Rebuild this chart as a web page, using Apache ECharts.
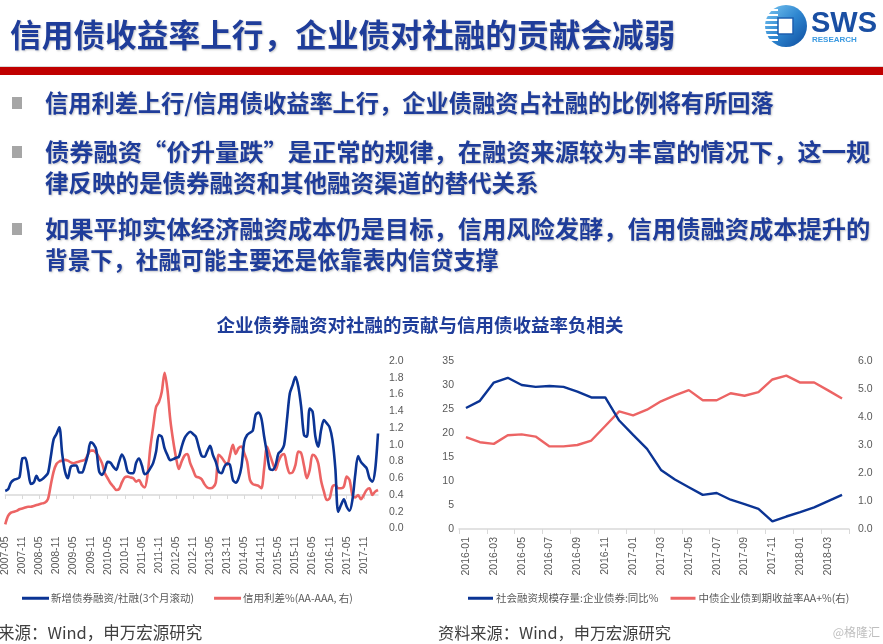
<!DOCTYPE html>
<html><head><meta charset="utf-8">
<script src="https://cdn.jsdelivr.net/npm/echarts@6.0.0/dist/echarts.min.js"></script>
<style>html,body{margin:0;padding:0;background:#fff;overflow:hidden}#c{width:883px;height:644px}</style>
</head><body><div id="c"></div>
<script>
// ---- Left chart: monthly 2007-05 .. 2018-04 ----
const leftMonths = [];
for (let y = 2007, m = 5; !(y === 2018 && m === 5);) {
  leftMonths.push(y + '-' + String(m).padStart(2, '0'));
  m++; if (m > 12) { m = 1; y++; }
}
// 新增债券融资/社融(3个月滚动), % (hidden left axis)
const bondShare = [
  1.2,1.7,3.7,4.5,4.8,5.3,10.9,11.1,7.5,3.3,
  3.7,5.7,4.3,4.7,5.5,6.5,11.4,16.6,18.2,20.2,
  12.4,7.0,5.0,8.4,8.8,8.8,6.7,6.7,8.9,11.9,
  15.7,15.2,13.4,7.0,6.0,7.5,9.9,9.6,8.4,7.5,
  9.9,12.1,10.4,7.0,6.5,6.5,9.6,10.9,8.9,6.2,
  6.7,8.0,9.6,12.9,17.9,17.4,13.9,11.9,10.4,10.7,
  11.1,11.4,14.4,16.9,18.2,18.9,18.2,17.4,14.4,11.7,
  11.4,13.1,14.7,11.9,9.9,7.0,6.5,8.4,9.4,8.9,
  4.5,3.7,5.0,8.4,15.9,17.9,18.6,19.2,23.9,24.6,
  22.9,17.4,12.4,7.7,7.5,8.9,12.4,13.2,14.9,22.4,
  30.3,32.8,35.3,32.3,26.3,17.9,17.4,25.8,24.9,17.4,
  14.4,19.4,22.4,21.4,20.2,16.4,8.0,-5.0,-3.0,-1.3,
  -3.5,-4.7,-1.5,6.0,11.6,9.9,8.9,8.0,5.0,4.0,
  7.5,18.4
];
// 信用利差%(AA-AAA, 右)
const creditSpread = [
  0.05,0.15,0.19,0.20,0.21,0.23,0.24,0.25,0.26,0.26,
  0.27,0.28,0.29,0.30,0.31,0.35,0.52,0.68,0.77,0.80,
  0.81,0.82,0.81,0.79,0.78,0.79,0.80,0.81,0.82,0.88,
  0.93,0.93,0.90,0.85,0.78,0.66,0.60,0.54,0.50,0.46,
  0.47,0.55,0.61,0.62,0.61,0.60,0.56,0.58,0.52,0.49,
  0.64,0.97,1.22,1.45,1.51,1.63,1.86,1.66,1.30,1.05,
  0.85,0.71,0.80,0.87,0.89,0.78,0.70,0.62,0.61,0.59,
  0.53,0.49,0.48,0.49,0.55,0.88,0.85,0.80,0.76,0.88,
  1.00,0.89,0.96,0.98,0.90,0.80,0.58,0.53,0.52,0.51,
  0.48,0.72,0.98,0.88,0.78,0.70,0.80,0.87,0.89,0.75,
  0.66,0.67,0.76,0.92,0.90,0.75,0.60,0.70,0.88,0.86,
  0.78,0.57,0.44,0.34,0.36,0.50,0.52,0.48,0.48,0.50,
  0.62,0.58,0.40,0.37,0.40,0.35,0.40,0.46,0.48,0.40,
  0.44,0.46
];
const leftRightTicks = [0, 2.0, 0.2]; // min, max, step

// ---- Right chart: monthly 2016-01 .. 2018-04 ----
const rightMonths = [
  '2016-01','2016-02','2016-03','2016-04','2016-05','2016-06','2016-07','2016-08','2016-09','2016-10','2016-11','2016-12',
  '2017-01','2017-02','2017-03','2017-04','2017-05','2017-06','2017-07','2017-08','2017-09','2017-10','2017-11','2017-12',
  '2018-01','2018-02','2018-03','2018-04'
];
// 社会融资规模存量:企业债券:同比%
const bondStockYoY = [
  25.2,26.7,30.5,31.5,30.0,29.6,29.8,29.6,28.6,27.4,27.4,22.6,
  19.6,16.7,12.3,10.3,8.7,7.1,7.5,6.1,5.2,4.2,1.6,2.6,
  3.5,4.5,5.8,7.1
];
// 中债企业债到期收益率AA+%(右)
const aaPlusYield = [
  3.28,3.10,3.04,3.35,3.38,3.30,2.95,2.95,3.00,3.16,3.68,4.20,
  4.06,4.26,4.56,4.77,4.96,4.60,4.60,4.85,4.76,4.89,5.34,5.48,
  5.23,5.23,4.95,4.66
];

const BLUE = '#0B3494';
const RED = '#EC6464';
const TXT = '#1F3D9A';
const AX = '#595959';
const CJK = '"Noto Sans CJK SC", sans-serif';
const LAT = '"Liberation Sans", Arial, "Noto Sans CJK SC", sans-serif';

function txt(x, y, text, font, fill, align, extra, styleExtra) {
  return Object.assign({
    type: 'text', x: x, y: y,
    style: Object.assign({ text: text, font: font, fill: fill,
      textAlign: align || 'left', align: align || 'left',
      textVerticalAlign: 'middle', verticalAlign: 'middle' }, styleExtra || {})
  }, extra || {});
}
const shadow = { textShadowColor: 'rgba(0,0,0,0.22)', textShadowBlur: 2, textShadowOffsetX: 1, textShadowOffsetY: 1 };
const BF = 'bold 23.5px ' + CJK;

const graphics = [
  txt(10, 35, '信用债收益率上行，企业债对社融的贡献会减弱', 'bold 31.7px ' + CJK, TXT, 'left', null, shadow),
  { type: 'rect', shape: { x: 0, y: 66, width: 883, height: 1 }, style: { fill: '#D9D9D9' } },
  { type: 'rect', shape: { x: 0, y: 67, width: 883, height: 8 }, style: { fill: '#C00000' } },
  // logo
  { type: 'circle', shape: { cx: 786, cy: 26, r: 21 }, style: { fill: new echarts.graphic.LinearGradient(0, 0, 1, 1, [{ offset: 0, color: '#7CC8F2' }, { offset: 0.5, color: '#2E86D0' }, { offset: 1, color: '#0D4C9E' }]) } },
  { type: 'rect', shape: { x: 764, y: 9, width: 14, height: 2 }, style: { fill: '#fff' } },
  { type: 'rect', shape: { x: 764, y: 14, width: 14, height: 2 }, style: { fill: '#fff' } },
  { type: 'rect', shape: { x: 764, y: 19, width: 14, height: 2 }, style: { fill: '#fff' } },
  { type: 'rect', shape: { x: 764, y: 24, width: 14, height: 2 }, style: { fill: '#fff' } },
  { type: 'rect', shape: { x: 764, y: 29, width: 14, height: 2 }, style: { fill: '#fff' } },
  { type: 'rect', shape: { x: 764, y: 34, width: 14, height: 2 }, style: { fill: '#fff' } },
  { type: 'rect', shape: { x: 764, y: 39, width: 14, height: 2 }, style: { fill: '#fff' } },
  { type: 'rect', shape: { x: 778, y: 18, width: 15, height: 16 }, style: { fill: '#fff', stroke: '#1C5FB0', lineWidth: 1.5 } },
  txt(811, 24, 'SWS', 'bold 29px ' + LAT, '#1A4FA3'),
  txt(812, 39.5, 'RESEARCH', 'bold 8px ' + LAT, '#3B9AE1'),
  // bullets
  { type: 'rect', shape: { x: 12, y: 97, width: 10, height: 12 }, style: { fill: '#A6A6A6' } },
  { type: 'rect', shape: { x: 12, y: 146, width: 10, height: 12 }, style: { fill: '#A6A6A6' } },
  { type: 'rect', shape: { x: 12, y: 223, width: 10, height: 12 }, style: { fill: '#A6A6A6' } },
  txt(45, 103, '信用利差上行/信用债收益率上行，企业债融资占社融的比例将有所回落', BF, TXT, 'left', { scaleX: 0.988 }, shadow),
  txt(45, 152, '债券融资“价升量跌”是正常的规律，在融资来源较为丰富的情况下，这一规', BF, TXT, 'left', { scaleX: 1.033 }, shadow),
  txt(45, 183, '律反映的是债券融资和其他融资渠道的替代关系', BF, TXT, 'left', null, shadow),
  txt(45, 229, '如果平抑实体经济融资成本仍是目标，信用风险发酵，信用债融资成本提升的', BF, TXT, 'left', { scaleX: 1.033 }, shadow),
  txt(45, 260, '背景下，社融可能主要还是依靠表内信贷支撑', BF, TXT, 'left', { scaleX: 0.965 }, shadow),
  // chart title
  txt(420, 325, '企业债券融资对社融的贡献与信用债收益率负相关', 'bold 18.5px ' + CJK, TXT, 'center'),
  // sources
  txt(-2, 633, '来源：Wind，申万宏源研究', '16.5px ' + CJK, '#404040'),
  txt(438, 633, '资料来源：Wind，申万宏源研究', '16.2px ' + CJK, '#404040'),
  txt(880, 632, '@格隆汇', '12px ' + CJK, '#BFBFBF', 'right')
];

const lbl = { fontSize: 10.5, color: AX, fontFamily: LAT };

const option = {
  animation: false,
  backgroundColor: '#fff',
  graphic: graphics,
  legend: [
    { left: 17, top: 588, itemWidth: 27, itemHeight: 3, itemGap: 20, icon: 'rect',
      textStyle: { fontSize: 10.5, color: AX, fontFamily: CJK, padding: [0, 0, 0, -3] },
      data: ['新增债券融资/社融(3个月滚动)', '信用利差%(AA-AAA, 右)'] },
    { left: 463, top: 588, itemWidth: 25, itemHeight: 3, itemGap: 12, icon: 'rect',
      textStyle: { fontSize: 10.5, color: AX, fontFamily: CJK, padding: [0, 0, 0, -2] },
      data: ['社会融资规模存量:企业债券:同比%', '中债企业债到期收益率AA+%(右)'] }
  ],
  grid: [
    { left: 3.5, top: 361, width: 374.5, height: 167.5 },
    { left: 459, top: 361, width: 390, height: 168 }
  ],
  xAxis: [
    { gridIndex: 0, type: 'category', data: leftMonths, boundaryGap: false, position: 'bottom',
      axisLine: { show: false, onZero: false }, axisTick: { show: false },
      axisLabel: Object.assign({ interval: 5, rotate: 90, margin: 8 }, lbl), splitLine: { show: false } },
    { gridIndex: 0, type: 'category', data: leftMonths, boundaryGap: false,
      axisLine: { show: true, onZero: true, onZeroAxisIndex: 0, lineStyle: { color: '#D9D9D9', width: 1.5 } },
      axisTick: { show: true, interval: 5, inside: true, length: 4, lineStyle: { color: '#D9D9D9' } },
      axisLabel: { show: false }, splitLine: { show: false } },
    { gridIndex: 1, type: 'category', data: rightMonths, boundaryGap: true, position: 'bottom',
      axisLine: { show: true, lineStyle: { color: '#D9D9D9', width: 1.5 } },
      axisTick: { show: true, interval: 1, length: 5, lineStyle: { color: '#D9D9D9' } },
      axisLabel: Object.assign({ interval: 1, rotate: 90, margin: 8 }, lbl), splitLine: { show: false } }
  ],
  yAxis: [
    { gridIndex: 0, type: 'value', min: -10, max: 40, show: false, splitLine: { show: false } },
    { gridIndex: 0, type: 'value', position: 'right', min: leftRightTicks[0], max: leftRightTicks[1], interval: leftRightTicks[2],
      axisLine: { show: false }, axisTick: { show: false }, splitLine: { show: false },
      axisLabel: Object.assign({ margin: 11, formatter: v => v.toFixed(1) }, lbl) },
    { gridIndex: 1, type: 'value', position: 'left', min: 0, max: 35, interval: 5,
      axisLine: { show: false }, axisTick: { show: false }, splitLine: { show: false },
      axisLabel: Object.assign({ margin: 5 }, lbl) },
    { gridIndex: 1, type: 'value', position: 'right', min: 0, max: 6, interval: 1,
      axisLine: { show: false }, axisTick: { show: false }, splitLine: { show: false },
      axisLabel: Object.assign({ margin: 9, formatter: v => v.toFixed(1) }, lbl) }
  ],
  series: [
    { name: '新增债券融资/社融(3个月滚动)', type: 'line', xAxisIndex: 0, yAxisIndex: 0, data: bondShare,
      color: BLUE, showSymbol: false, smooth: 0.3, lineStyle: { width: 2.6, color: BLUE }, z: 3 },
    { name: '信用利差%(AA-AAA, 右)', type: 'line', xAxisIndex: 0, yAxisIndex: 1, data: creditSpread,
      color: RED, showSymbol: false, smooth: 0.3, lineStyle: { width: 2.6, color: RED }, z: 2 },
    { name: '社会融资规模存量:企业债券:同比%', type: 'line', xAxisIndex: 2, yAxisIndex: 2, data: bondStockYoY,
      color: BLUE, showSymbol: false, lineStyle: { width: 2.4, color: BLUE }, z: 3 },
    { name: '中债企业债到期收益率AA+%(右)', type: 'line', xAxisIndex: 2, yAxisIndex: 3, data: aaPlusYield,
      color: RED, showSymbol: false, lineStyle: { width: 2.4, color: RED }, z: 2 }
  ]
};
const chart = echarts.init(document.getElementById('c'), null, { renderer: 'canvas' });
chart.setOption(option);
</script>
</body></html>
